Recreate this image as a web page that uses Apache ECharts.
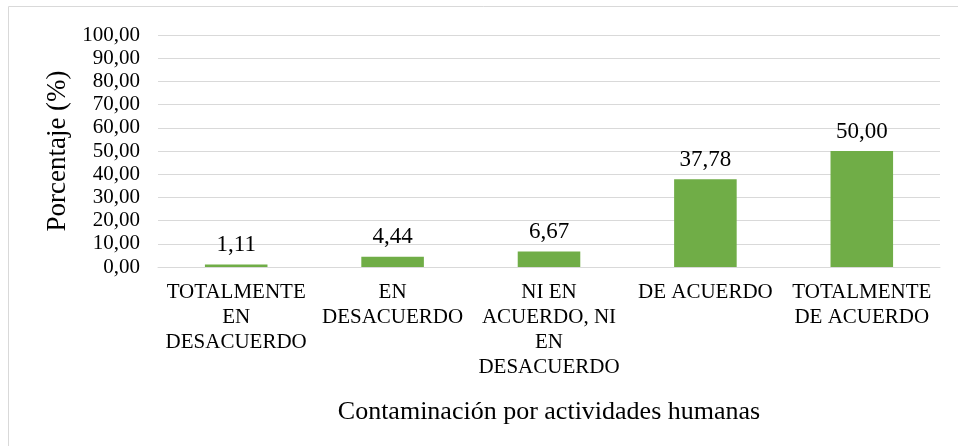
<!DOCTYPE html>
<html>
<head>
<meta charset="utf-8">
<script src="https://cdn.jsdelivr.net/npm/echarts@6/dist/echarts.min.js"></script>
<style>
	html, body { margin: 0; padding: 0; background: #fff; }
	#chart { width: 958px; height: 446px; }
</style>
</head>
<body>
<div id="chart"></div>
<script>
var categories = ['TOTALMENTE\nEN\nDESACUERDO', 'EN\nDESACUERDO', 'NI EN\nACUERDO, NI\nEN\nDESACUERDO', 'DE ACUERDO', 'TOTALMENTE\nDE ACUERDO'];
var values = [1.11, 4.44, 6.67, 37.78, 50.00];
var yMin = 0, yMax = 100, yStep = 10;

function fmt(v) {
	return Number(v).toFixed(2).replace('.', ',');
}

var serif = '"Liberation Serif", "Times New Roman", serif';
var chart = echarts.init(document.getElementById('chart'));
var option = {
	color : ['#70ad47'],
	animation : false,
	graphic : [{
		type : 'polyline',
		shape : { points : [[8.5, 446], [8.5, 6.5], [958, 6.5]] },
		style : { stroke : '#d9d9d9', lineWidth : 1, fill : null }
	}],
	grid : {
		left : 158,
		right : 18,
		top : 35,
		bottom : 179
	},
	xAxis : [ {
		type : 'category',
		data : categories,
		name : 'Contaminación por actividades humanas',
		nameLocation : 'middle',
		nameGap : 132,
		nameTextStyle : {
			color : '#000',
			fontSize : 26,
			fontFamily : serif
		},
		axisLine : {
			show : true,
			lineStyle : { color : '#d9d9d9', width : 1 }
		},
		axisTick : { show : false },
		axisLabel : {
			show : true,
			interval : 0,
			margin : 13,
			lineHeight : 25,
			color : '#000',
			fontSize : 21,
			fontFamily : serif
		},
		splitLine : { show : false }
	} ],
	yAxis : [ {
		type : 'value',
		min : yMin,
		max : yMax,
		interval : yStep,
		name : 'Porcentaje (%)',
		nameLocation : 'middle',
		nameGap : 84,
		nameTextStyle : {
			color : '#000',
			fontSize : 27,
			fontFamily : serif
		},
		axisLine : { show : false },
		axisTick : { show : false },
		axisLabel : {
			show : true,
			margin : 18,
			color : '#000',
			fontSize : 21,
			fontFamily : serif,
			formatter : function (v) { return fmt(v); }
		},
		splitLine : {
			show : true,
			lineStyle : { color : '#d9d9d9', width : 1 }
		}
	} ],
	series : [ {
		name : 'Porcentaje',
		type : 'bar',
		data : values,
		barWidth : '40%',
		label : {
			show : true,
			position : 'top',
			distance : 8,
			color : '#000',
			fontSize : 23,
			fontFamily : serif,
			formatter : function (p) { return fmt(p.value); }
		}
	} ]
};
chart.setOption(option);
</script>
</body>
</html>
